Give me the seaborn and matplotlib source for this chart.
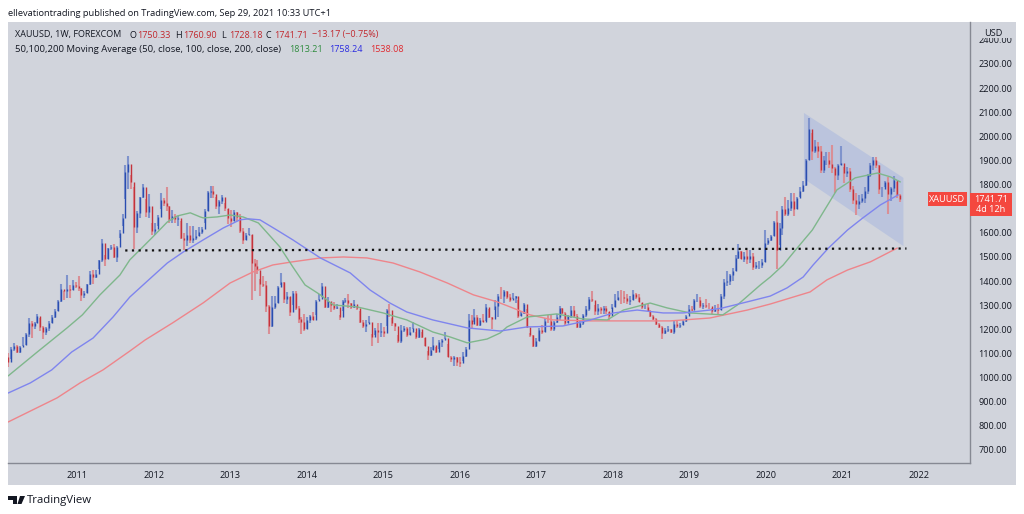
import numpy as np
import seaborn as sns
import matplotlib.pyplot as plt
from matplotlib.patches import Polygon, Rectangle

# two-weekly bars, one row per calendar year
closes = [
    1065,1120,1132,1105,1125,1137,1180,1228,1212,1225,1256,1210,1188,1204,1228,1250,1275,1317,1368,1358,1368,1362,1385,1380,
    1370,1342,1350,1388,1428,1418,1428,1486,1556,1492,1536,1542,1500,1542,1601,1663,1852,1884,1812,1623,1682,1747,1788,1685,1712,1606,
    1616,1664,1738,1725,1712,1656,1668,1659,1663,1580,1572,1590,1570,1580,1585,1605,1616,1690,1770,1772,1760,1711,1730,1750,1702,1660,
    1648,1687,1667,1609,1572,1592,1596,1476,1462,1448,1386,1383,1298,1212,1293,1310,1375,1396,1326,1338,1272,1352,1287,1244,1230,1203,
    1237,1254,1240,1318,1326,1379,1294,1318,1302,1290,1292,1252,1316,1320,1310,1294,1305,1287,1230,1214,1222,1231,1169,1196,1190,1195,
    1186,1280,1279,1227,1213,1152,1199,1207,1178,1189,1206,1170,1201,1168,1132,1095,1113,1134,1108,1146,1156,1163,1087,1076,1085,1065,
    1060,1090,1117,1239,1222,1250,1220,1240,1232,1294,1252,1243,1298,1340,1338,1358,1335,1321,1328,1337,1257,1267,1305,1208,1178,1133,
    1152,1196,1190,1235,1234,1201,1229,1252,1288,1268,1228,1256,1279,1256,1208,1228,1258,1286,1324,1322,1275,1287,1280,1288,1275,1257,
    1292,1320,1335,1333,1330,1317,1323,1345,1335,1315,1292,1294,1278,1254,1241,1223,1211,1184,1196,1201,1188,1222,1213,1218,1233,1256,
    1285,1282,1320,1322,1298,1302,1296,1295,1278,1286,1282,1340,1398,1400,1425,1440,1496,1525,1490,1505,1490,1505,1460,1465,1465,1480,
    1560,1570,1585,1645,1530,1620,1700,1680,1702,1730,1700,1745,1775,1800,1900,2030,1940,1960,1940,1860,1900,1900,1885,1870,1840,1880,
    1890,1850,1855,1780,1735,1720,1730,1745,1775,1840,1880,1900,1880,1780,1780,1810,1760,1785,1820,1755,1741,
]
highs = [
    1100,1128,1145,1135,1130,1170,1185,1249,1235,1232,1265,1245,1212,1210,1235,1258,1283,1320,1387,1360,1424,1382,1406,1395,
    1423,1370,1360,1390,1440,1445,1445,1487,1575,1510,1537,1550,1555,1545,1610,1680,1880,1920,1840,1790,1690,1750,1803,1740,1760,1640,
    1640,1675,1765,1745,1790,1710,1695,1680,1670,1650,1600,1640,1628,1630,1610,1625,1625,1700,1775,1795,1795,1750,1735,1755,1725,1700,
    1695,1695,1685,1680,1620,1600,1620,1590,1490,1487,1410,1420,1400,1300,1340,1340,1380,1435,1395,1355,1335,1360,1360,1295,1250,1262,
    1250,1260,1270,1320,1345,1392,1330,1335,1310,1315,1305,1260,1320,1330,1345,1310,1320,1295,1275,1240,1240,1255,1180,1205,1225,1225,
    1210,1285,1305,1245,1225,1175,1220,1215,1210,1210,1230,1190,1205,1190,1165,1110,1125,1170,1125,1155,1160,1190,1140,1090,1090,1085,
    1085,1105,1125,1262,1260,1285,1260,1245,1262,1305,1285,1250,1320,1345,1375,1365,1360,1345,1352,1340,1320,1275,1308,1285,1185,1175,
    1165,1205,1220,1245,1260,1265,1235,1265,1295,1290,1270,1260,1295,1296,1262,1235,1262,1295,1335,1358,1300,1305,1292,1298,1295,1270,
    1305,1345,1360,1365,1360,1345,1340,1365,1350,1345,1310,1305,1305,1280,1260,1245,1225,1215,1205,1212,1200,1235,1240,1225,1240,1260,
    1300,1295,1325,1345,1335,1310,1325,1310,1290,1300,1305,1345,1410,1440,1430,1455,1510,1555,1525,1520,1530,1530,1515,1480,1485,1490,
    1610,1580,1590,1650,1690,1640,1710,1750,1735,1765,1765,1750,1790,1815,1905,2075,2015,1985,1975,1960,1920,1935,1935,1965,1875,1885,
    1960,1875,1875,1870,1795,1765,1755,1760,1790,1845,1890,1915,1915,1880,1790,1815,1830,1790,1835,1810,1760,
]
lows = [
    1045,1078,1112,1100,1100,1130,1135,1170,1166,1200,1225,1195,1158,1175,1195,1225,1245,1275,1315,1320,1330,1330,1365,1373,
    1360,1319,1330,1350,1385,1390,1412,1450,1480,1462,1490,1530,1495,1480,1580,1630,1740,1780,1780,1535,1600,1660,1745,1665,1660,1590,
    1590,1630,1700,1710,1690,1640,1640,1640,1630,1575,1530,1545,1560,1560,1570,1585,1595,1640,1690,1745,1745,1700,1680,1720,1690,1635,
    1625,1650,1650,1600,1555,1570,1590,1320,1360,1430,1340,1375,1270,1180,1210,1285,1310,1385,1310,1305,1255,1300,1280,1225,1180,1195,
    1200,1225,1238,1260,1320,1335,1290,1290,1270,1280,1285,1240,1275,1310,1290,1285,1290,1280,1225,1205,1190,1225,1130,1175,1145,1170,
    1170,1215,1250,1215,1195,1145,1145,1190,1170,1175,1200,1160,1165,1165,1130,1075,1090,1115,1100,1120,1125,1160,1085,1065,1050,1050,
    1045,1070,1085,1150,1200,1230,1215,1215,1230,1235,1245,1200,1280,1250,1325,1310,1325,1315,1325,1310,1245,1255,1265,1205,1170,1125,
    1125,1150,1180,1190,1225,1195,1195,1225,1240,1265,1215,1225,1245,1250,1205,1205,1220,1250,1275,1315,1260,1260,1265,1265,1265,1235,
    1285,1292,1320,1305,1310,1305,1300,1320,1325,1315,1285,1285,1275,1250,1240,1220,1205,1160,1180,1190,1185,1180,1205,1205,1220,1230,
    1265,1275,1285,1315,1290,1285,1290,1285,1265,1270,1265,1280,1325,1380,1385,1400,1440,1490,1490,1480,1470,1475,1445,1450,1450,1455,
    1480,1550,1565,1585,1450,1550,1590,1670,1670,1690,1670,1700,1750,1770,1795,1900,1900,1930,1910,1850,1850,1880,1870,1850,1765,1820,
    1880,1805,1830,1770,1720,1675,1700,1725,1725,1760,1830,1860,1870,1760,1750,1790,1680,1730,1770,1745,1728,
]

ma50_years = [2010.10,2010.48,2010.87,2011.07,2011.30,2011.56,2011.69,2011.82,2011.99,2012.18,2012.31,2012.48,2012.61,2012.65,2012.83,2013.00,2013.17,2013.37,2013.65,2013.82,2013.98,2014.18,2014.35,2014.66,2015.00,2015.31,2015.65,2015.88,2016.10,2016.36,2016.53,2016.62,2016.88,2017.27,2017.61,2017.93,2018.14,2018.49,2018.71,2019.01,2019.44,2019.63,2019.93,2020.06,2020.23,2020.39,2020.61,2020.93,2021.17,2021.46,2021.63,2021.76]
ma50_values = [1007,1106,1206,1260,1343,1425,1488,1529,1583,1645,1670,1683,1666,1662,1666,1674,1666,1641,1542,1459,1384,1343,1301,1293,1268,1239,1189,1168,1144,1160,1185,1210,1251,1264,1243,1239,1280,1309,1289,1268,1260,1301,1384,1417,1467,1529,1612,1778,1828,1848,1832,1811]

ma100_years = [2010.10,2010.39,2010.67,2010.93,2011.21,2011.47,2011.69,2011.95,2012.18,2012.39,2012.65,2012.91,2013.13,2013.24,2013.39,2013.61,2013.82,2014.18,2014.57,2014.83,2015.09,2015.31,2015.65,2016.10,2016.53,2016.88,2017.35,2017.71,2018.01,2018.32,2018.66,2018.92,2019.27,2019.44,2019.76,2020.06,2020.28,2020.49,2020.62,2020.82,2021.07,2021.27,2021.50,2021.73]
ma100_values = [936,978,1032,1106,1164,1251,1334,1409,1475,1521,1571,1620,1654,1658,1654,1612,1571,1496,1434,1363,1309,1272,1239,1206,1193,1210,1214,1239,1268,1280,1268,1268,1280,1289,1314,1338,1372,1417,1467,1537,1612,1662,1716,1757]

ma200_years = [2010.10,2010.42,2010.74,2011.04,2011.34,2011.69,2011.89,2012.25,2012.65,2013.00,2013.30,2013.56,2013.82,2014.18,2014.48,2014.79,2015.13,2015.48,2015.84,2016.18,2016.49,2016.66,2016.92,2017.22,2017.71,2018.23,2018.75,2019.27,2019.76,2020.06,2020.32,2020.58,2020.80,2021.07,2021.37,2021.72]
ma200_values = [816,866,916,978,1032,1110,1156,1227,1310,1392,1438,1467,1480,1496,1500,1496,1475,1438,1392,1343,1314,1293,1260,1239,1235,1235,1235,1247,1280,1305,1330,1355,1405,1446,1480,1537]

channel_years = [2020.50, 2021.80, 2021.80, 2020.50]
channel_prices = [2097, 1828, 1545, 1824]
support_years = [2011.63, 2021.84]
support_prices = [1527, 1535]

year_ticks = list(range(2011, 2023))
# 1700 is covered by the last price tag in the original
price_ticks = [p for p in range(700, 2500, 100) if p != 1700]

BG = "#d1d4dc"
W, H = 1024, 514


def px(x, y):
    # pixel position in the picture -> figure coords
    return x / W, 1 - y / H


def put(x, y, s, color="#131722", size=6.5, ha="left", **kw):
    fig.text(*px(x, y), s, color=color, fontsize=size, ha=ha, va="center", **kw)


def box(x0, y0, x1, y1, color, z=5):
    fig.add_artist(Rectangle(px(x0, y1), (x1 - x0) / W, (y1 - y0) / H, transform=fig.transFigure,
                             facecolor=color, edgecolor="none", zorder=z))


sns.set_theme(style="white")
plt.rcParams["font.family"] = ["Open Sans", "DejaVu Sans"]

fig = plt.figure(figsize=(W / 100, H / 100), dpi=100, facecolor="white")
box(8, 22, 1016, 485, BG, z=0)

ax = fig.add_axes([8 / W, 1 - 463 / H, 962 / W, 441 / H])
ax.patch.set_alpha(0)
ax.set_xlim(2010.098, 2022.67)
ax.set_ylim(646, 2474)

# bars
c = np.array(closes, dtype=float)
h = np.array(highs, dtype=float)
l = np.array(lows, dtype=float)
o = np.r_[1085.0, c[:-1]]
x = 2010.1 + np.arange(len(c)) * 14 / 365.25
up = c >= o

ax.add_patch(Polygon(list(zip(channel_years, channel_prices)), closed=True, facecolor="#9aaee0", alpha=0.4,
                     edgecolor="none", zorder=1))

ax.vlines(x[up], l[up], h[up], color="#7f93cc", lw=1.5, zorder=2)
ax.vlines(x[~up], l[~up], h[~up], color="#d98f96", lw=1.5, zorder=2)
ax.vlines(x[up], o[up], c[up], color="#2a4db0", lw=1.0, zorder=3)
ax.vlines(x[~up], c[~up], o[~up], color="#c4333b", lw=1.0, zorder=3)

# moving averages
sns.lineplot(x=ma200_years, y=ma200_values, color="#ee858b", lw=1.0, estimator=None, ax=ax, zorder=4)
sns.lineplot(x=ma50_years, y=ma50_values, color="#7fb78c", lw=1.0, estimator=None, ax=ax, zorder=4)
sns.lineplot(x=ma100_years, y=ma100_values, color="#7f85ee", lw=1.0, estimator=None, ax=ax, zorder=4)

ax.plot(support_years, support_prices, color="#111111", lw=1.6, ls=(0, (1, 2)), zorder=5)

for side in ["top", "left"]:
    ax.spines[side].set_visible(False)
for side in ["right", "bottom"]:
    ax.spines[side].set_color("#868993")
    ax.spines[side].set_linewidth(1)

ax.yaxis.tick_right()
ax.set_yticks(price_ticks)
ax.set_yticklabels([f"{p}.00" for p in price_ticks])
ax.set_xticks(year_ticks)
ax.set_xticklabels([str(y) for y in year_ticks])
ax.tick_params(axis="y", length=0, pad=6, labelsize=6.6, labelcolor="#131722")
ax.tick_params(axis="x", length=0, pad=6, labelsize=6.6, labelcolor="#131722")

# currency label sits over the top tick
box(972, 28, 1014, 38, BG, z=6)
put(993, 33, "USD", size=6.6, ha="center", zorder=7)

# header
put(8, 13.5, "ellevationtrading published on TradingView.com, Sep 29, 2021 10:33 UTC+1", size=6.7)
put(15, 35, "XAUUSD, 1W, FOREXCOM")
put(15, 49, "50,100,200 Moving Average (50, close, 100, close, 200, close)", size=6.8)
ohlc_red = "#c1272d"
for xp, letter, val in [(129, "O", "1750.33"), (175, "H", "1760.90"), (221, "L", "1728.18"), (266, "C", "1741.71")]:
    put(xp, 35, letter)
    put(xp + 8, 35, val, color=ohlc_red)
put(312, 35, "\u221213.17 (\u22120.75%)", color=ohlc_red)
put(289, 49, "1813.21", color="#2e8b3d")
put(329, 49, "1758.24", color="#2b2be0")
put(370, 49, "1538.08", color="#e0292f")

# last price tags
box(928, 192, 967, 206, "#f4473f", z=6)
put(947.5, 199, "XAUUSD", size=6.6, color="white", ha="center", zorder=7)
box(970, 193, 1012, 216, "#f4473f", z=6)
put(991, 199, "1741.71", size=6.6, color="white", ha="center", zorder=7)
put(991, 210, "4d 12h", size=6.6, color="white", ha="center", zorder=7)

# TradingView mark
for pts in [[(8, 496), (17, 496), (17, 504), (12.5, 504), (12.5, 500), (8, 500)],
            [(20, 496), (25, 496), (21.5, 504), (17.5, 504)]]:
    fig.add_artist(Polygon([px(a, b) for a, b in pts], closed=True, transform=fig.transFigure,
                           facecolor="#131722", edgecolor="none"))
put(27, 500, "TradingView", size=8.2)

fig.savefig("out.png", dpi=100)
